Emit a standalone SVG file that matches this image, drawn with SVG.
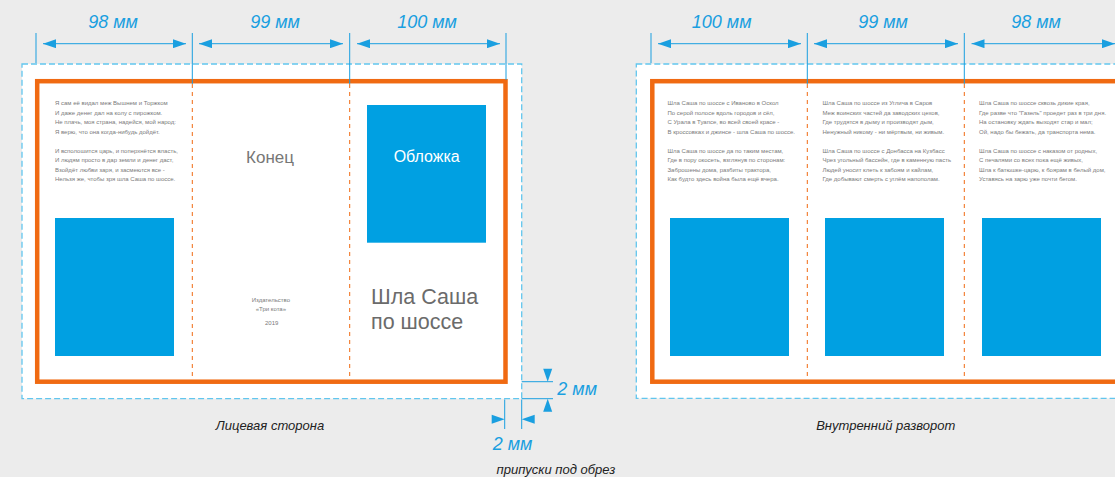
<svg xmlns="http://www.w3.org/2000/svg" xmlns:xlink="http://www.w3.org/1999/xlink" width="1115" height="477" viewBox="0 0 1115 477">
<style>
.bg{fill:#ececec}
.bleed{fill:#fff;stroke:#62c6ee;stroke-width:1.3;stroke-dasharray:6 3}
.trim{fill:none;stroke:#f06a12;stroke-width:4.5}
.fold{stroke:#f06a12;stroke-width:1;stroke-dasharray:4 4}
.dim{stroke:#1a9fe0;stroke-width:1;fill:none}
.dimA{stroke:#1a9fe0;stroke-width:1;fill:none;marker-start:url(#arr);marker-end:url(#arr)}
.ah{fill:#1a9fe0}
.img{fill:#00a0e2}
.dl{font-family:"Liberation Sans",Arial,sans-serif;font-style:italic;font-size:18px;fill:#1a9fe0}
.cap{font-family:"Liberation Sans",Arial,sans-serif;font-style:italic;font-size:13px;fill:#222}
.small{font-family:"Liberation Sans",Arial,sans-serif;font-size:6px;fill:#7a7a7a}
.mid{font-family:"Liberation Sans",Arial,sans-serif;font-size:17px;fill:#777}
.title{font-family:"Liberation Sans",Arial,sans-serif;font-size:21.5px;fill:#6b6b6b}
.white{font-family:"Liberation Sans",Arial,sans-serif;font-size:16px;fill:#fff}
</style>
<defs>
<marker id="arr" viewBox="0 0 13 9" refX="13" refY="4.5" markerWidth="13" markerHeight="9" markerUnits="userSpaceOnUse" orient="auto-start-reverse">
<path d="M0,0 L13,4.5 L0,9 z" fill="#1a9fe0"/>
</marker>
<path id="ah" d="M0,0 L-13,-4.5 L-13,4.5 z"/>
</defs>
<rect class="bg" x="0" y="0" width="1115" height="477"/>

<g id="front">
<rect class="bleed" x="22" y="64" width="499.7" height="334.7"/>
<rect class="trim" x="37.2" y="81.2" width="468.3" height="300.5"/>
<line class="fold" x1="192.3" y1="84" x2="192.3" y2="380"/>
<line class="fold" x1="349.7" y1="84" x2="349.7" y2="380"/>
</g>

<g id="front-left-panel">
<text class="small">
<tspan x="55" y="105">Я сам её видал меж Вышнем и Торжком</tspan>
<tspan x="55" y="114.5">И даже денег дал на колу с пирожком.</tspan>
<tspan x="55" y="124">Не плачь, моя страна, надейся, мой народ:</tspan>
<tspan x="55" y="133.5">Я верю, что она когда-нибудь дойдёт.</tspan>
<tspan x="55" y="152.5">И всполошится царь, и поперхнётся власть,</tspan>
<tspan x="55" y="162">И людям просто в дар земли и денег даст,</tspan>
<tspan x="55" y="171.5">Взойдёт любви заря, и засмеются все -</tspan>
<tspan x="55" y="181">Нельзя же, чтобы зря шла Саша по шоссе.</tspan>
</text>
<rect class="img" x="55" y="218" width="119" height="138"/>
</g>

<g id="front-middle-panel">
<text class="mid" x="270" y="163.3" text-anchor="middle">Конец</text>
<text class="small" text-anchor="middle">
<tspan x="271.7" y="301.7">Издательство</tspan>
<tspan x="271.7" y="310.7">«Три кота»</tspan>
<tspan x="271.7" y="325">2019</tspan>
</text>
</g>

<g id="front-cover-panel">
<rect class="img" x="367" y="105" width="119" height="137.7"/>
<text class="white" x="426.7" y="161.7" text-anchor="middle">Обложка</text>
<text class="title"><tspan x="371" y="304">Шла Саша</tspan><tspan x="371" y="329.3">по шоссе</tspan></text>
</g>

<g id="inner">
<rect class="bleed" x="636.3" y="64" width="500" height="334.3"/>
<rect class="trim" x="652.3" y="81.2" width="470" height="300.5"/>
<line class="fold" x1="807.3" y1="84" x2="807.3" y2="380"/>
<line class="fold" x1="964.3" y1="84" x2="964.3" y2="380"/>
</g>

<g id="inner-panel-1">
<text class="small">
<tspan x="667.5" y="105">Шла Саша по шоссе с Иваново в Оскол</tspan>
<tspan x="667.5" y="114.5">По серой полосе вдоль городов и сёл,</tspan>
<tspan x="667.5" y="124">С Урала в Туапсе, во всей своей красе -</tspan>
<tspan x="667.5" y="133.5">В кроссовках и джинсе - шла Саша по шоссе.</tspan>
<tspan x="667.5" y="152.5">Шла Саша по шоссе да по таким местам,</tspan>
<tspan x="667.5" y="162">Где в пору окосеть, взглянув по сторонам:</tspan>
<tspan x="667.5" y="171.5">Заброшены дома, разбиты трактора,</tspan>
<tspan x="667.5" y="181">Как будто здесь война была ещё вчера.</tspan>
</text>
<rect class="img" x="670" y="218" width="119" height="138"/>
</g>

<g id="inner-panel-2">
<text class="small">
<tspan x="822.5" y="105">Шла Саша по шоссе из Углича в Саров</tspan>
<tspan x="822.5" y="114.5">Меж воинских частей да заводских цехов,</tspan>
<tspan x="822.5" y="124">Где трудятся в дыму и производят дым,</tspan>
<tspan x="822.5" y="133.5">Ненужный никому - ни мёртвым, ни живым.</tspan>
<tspan x="822.5" y="152.5">Шла Саша по шоссе с Донбасса на Кузбасс</tspan>
<tspan x="822.5" y="162">Чрез угольный бассейн, где в каменную пасть</tspan>
<tspan x="822.5" y="171.5">Людей уносит клеть к забоям и кайлам,</tspan>
<tspan x="822.5" y="181">Где добывают смерть с углём напополам.</tspan>
</text>
<rect class="img" x="825" y="218" width="119" height="138"/>
</g>

<g id="inner-panel-3">
<text class="small">
<tspan x="979" y="105">Шла Саша по шоссе сквозь дикие края,</tspan>
<tspan x="979" y="114.5">Где разве что "Газель" проедет раз в три дня.</tspan>
<tspan x="979" y="124">На остановку ждать выходят стар и мал;</tspan>
<tspan x="979" y="133.5">Ой, надо бы бежать, да транспорта нема.</tspan>
<tspan x="979" y="152.5">Шла Саша по шоссе с наказом от родных,</tspan>
<tspan x="979" y="162">С печалями со всех пока ещё живых,</tspan>
<tspan x="979" y="171.5">Шла к батюшке-царю, к боярам в белый дом,</tspan>
<tspan x="979" y="181">Уставясь на зарю уже почти бегом.</tspan>
</text>
<rect class="img" x="982" y="218" width="119" height="138"/>
</g>

<g id="connectors">
<line class="dim" x1="36" y1="33" x2="36" y2="63"/>
<line class="dim" x1="192.3" y1="33" x2="192.3" y2="84"/>
<line class="dim" x1="349.7" y1="33" x2="349.7" y2="84"/>
<line class="dim" x1="506" y1="33" x2="506" y2="80"/>
<line class="dimA" x1="43" y1="43.7" x2="186" y2="43.7"/>
<line class="dimA" x1="199" y1="43.7" x2="343" y2="43.7"/>
<line class="dimA" x1="357" y1="43.7" x2="500" y2="43.7"/>
<line class="dim" x1="651" y1="33" x2="651" y2="63"/>
<line class="dim" x1="807.3" y1="33" x2="807.3" y2="84"/>
<line class="dim" x1="964.3" y1="33" x2="964.3" y2="84"/>
<line class="dimA" x1="658" y1="43.7" x2="801" y2="43.7"/>
<line class="dimA" x1="814" y1="43.7" x2="958" y2="43.7"/>
<line class="dimA" x1="971.5" y1="43.7" x2="1115" y2="43.7"/>
<line class="dim" x1="521.7" y1="381.7" x2="553" y2="381.7"/>
<line class="dim" x1="521.7" y1="398.7" x2="553" y2="398.7"/>
<line class="dim" x1="504.7" y1="399.5" x2="504.7" y2="429"/>
<line class="dim" x1="521.7" y1="399.5" x2="521.7" y2="429"/>
<use href="#ah" class="ah" transform="translate(547.7,381.7) rotate(90)"/>
<use href="#ah" class="ah" transform="translate(547.7,398.7) rotate(-90)"/>
<use href="#ah" class="ah" transform="translate(504.7,419.3)"/>
<use href="#ah" class="ah" transform="translate(521.7,419.3) rotate(180)"/>
</g>

<g id="labels">
<text class="dl" x="113" y="28.3" text-anchor="middle">98 мм</text>
<text class="dl" x="275" y="28.3" text-anchor="middle">99 мм</text>
<text class="dl" x="427" y="28.3" text-anchor="middle">100 мм</text>
<text class="dl" x="721.7" y="28.3" text-anchor="middle">100 мм</text>
<text class="dl" x="883" y="28.3" text-anchor="middle">99 мм</text>
<text class="dl" x="1036" y="28.3" text-anchor="middle">98 мм</text>
<text class="dl" x="557.3" y="395">2 мм</text>
<text class="dl" x="492.7" y="450">2 мм</text>
<text class="cap" x="556" y="474" text-anchor="middle">припуски под обрез</text>
<text class="cap" x="270" y="430" text-anchor="middle">Лицевая сторона</text>
<text class="cap" x="885.7" y="430" text-anchor="middle">Внутренний разворот</text>
</g>
</svg>
